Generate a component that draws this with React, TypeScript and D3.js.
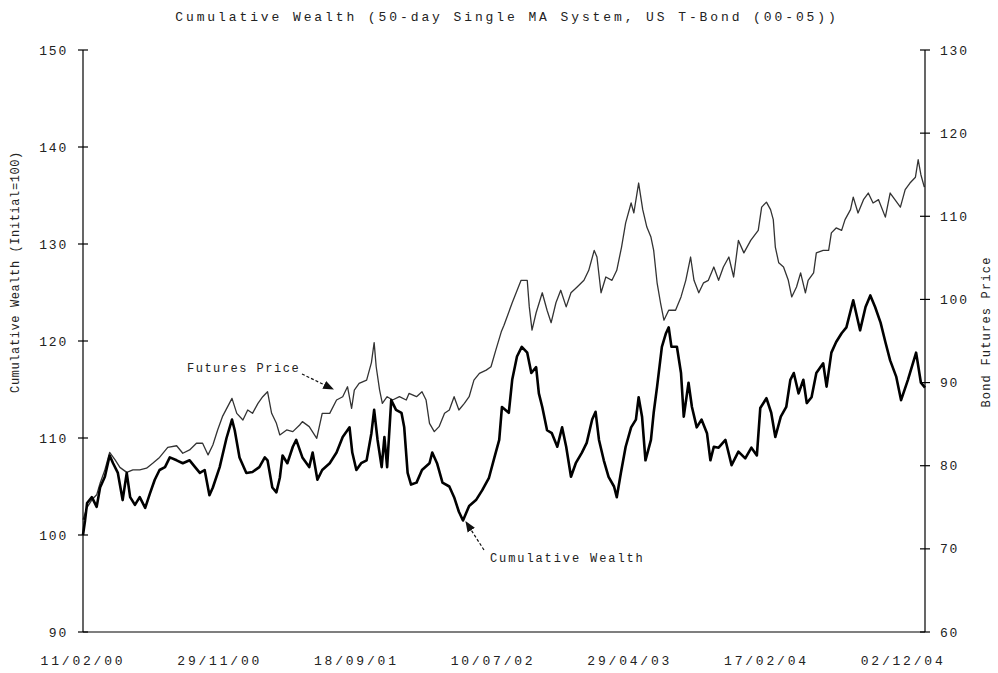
import React from 'react';
import * as d3 from 'd3';

// trading-day index (0 = 11/02/00) and values
const xTickDays = [0, 200, 400, 600, 800, 1000, 1200];
const xTickLabels = ['11/02/00', '29/11/00', '18/09/01', '10/07/02', '29/04/03', '17/02/04', '02/12/04'];
const wealthTicks = [90, 100, 110, 120, 130, 140, 150];
const priceTicks = [60, 70, 80, 90, 100, 110, 120, 130];

const wealth: [number, number][] = [
  [0, 100.0], [3, 101.5], [6, 103.3], [13, 103.9], [20, 102.9], [25, 104.9], [32, 106.0], [39, 108.2],
  [44, 107.4], [51, 106.4], [58, 103.6], [64, 106.4], [69, 103.9], [76, 103.1], [83, 103.9], [91, 102.8],
  [98, 104.3], [105, 105.7], [112, 106.7], [120, 107.0], [127, 108.0], [137, 107.7], [146, 107.4], [156, 107.7],
  [164, 107.0], [171, 106.4], [178, 106.7], [185, 104.1], [190, 104.9], [200, 107.0], [210, 110.0], [218, 111.9],
  [222, 110.8], [229, 108.0], [239, 106.4], [248, 106.5], [258, 107.0], [266, 108.0], [270, 107.7], [277, 104.9],
  [283, 104.4], [288, 105.9], [292, 108.2], [299, 107.4], [307, 109.1], [312, 109.8], [321, 108.0], [331, 107.0],
  [336, 108.5], [343, 105.7], [350, 106.7], [361, 107.4], [371, 108.5], [380, 110.1], [390, 111.1], [394, 108.5],
  [400, 106.7], [407, 107.4], [415, 107.7], [422, 110.5], [426, 112.9], [431, 109.8], [437, 107.0], [441, 110.1],
  [445, 107.0], [451, 113.9], [458, 112.9], [466, 112.6], [470, 111.1], [475, 106.4], [480, 105.2], [488, 105.4],
  [496, 106.7], [507, 107.4], [511, 108.5], [518, 107.4], [526, 105.4], [536, 105.0], [543, 103.9], [550, 102.4],
  [556, 101.5], [565, 103.0], [575, 103.6], [584, 104.6], [594, 105.9], [602, 108.0], [609, 109.8], [613, 113.2],
  [623, 112.6], [628, 116.0], [635, 118.4], [642, 119.4], [650, 118.8], [656, 116.7], [663, 117.3], [667, 114.6],
  [672, 113.2], [679, 110.8], [686, 110.5], [694, 109.1], [701, 111.1], [707, 109.1], [714, 106.0], [721, 107.4],
  [730, 108.5], [737, 109.5], [745, 111.9], [750, 112.7], [755, 109.8], [762, 107.7], [769, 106.0], [777, 105.0],
  [781, 103.9], [787, 106.4], [794, 109.1], [802, 111.1], [809, 111.9], [813, 114.2], [818, 112.2], [823, 107.7],
  [831, 109.8], [835, 112.6], [840, 115.3], [847, 119.4], [853, 120.8], [857, 121.4], [861, 119.4], [869, 119.4],
  [875, 116.7], [879, 112.2], [886, 115.7], [891, 113.2], [898, 111.1], [905, 111.9], [913, 110.5], [918, 107.7],
  [923, 109.1], [930, 109.0], [940, 109.8], [949, 107.2], [959, 108.6], [969, 107.9], [978, 109.0], [986, 108.2],
  [991, 113.1], [1000, 114.1], [1007, 112.6], [1013, 110.1], [1021, 112.2], [1029, 113.2], [1035, 116.0], [1040, 116.7],
  [1047, 114.6], [1054, 116.0], [1059, 113.6], [1066, 114.2], [1073, 116.7], [1083, 117.7], [1088, 115.3], [1095, 118.8],
  [1102, 119.9], [1110, 120.8], [1117, 121.4], [1127, 124.2], [1137, 121.1], [1145, 123.5], [1152, 124.7], [1159, 123.5],
  [1167, 121.9], [1174, 119.9], [1181, 118.0], [1190, 116.3], [1197, 113.9], [1207, 116.0], [1219, 118.8], [1226, 115.7],
  [1232, 115.2],
];

const futures: [number, number][] = [
  [0, 73.5], [6, 75.0], [13, 75.9], [20, 76.5], [25, 77.9], [32, 79.5], [39, 81.6], [47, 80.7],
  [54, 79.8], [64, 79.2], [73, 79.5], [83, 79.5], [93, 79.7], [102, 80.3], [112, 81.0], [124, 82.2],
  [137, 82.4], [146, 81.5], [156, 81.9], [166, 82.7], [175, 82.7], [183, 81.3], [190, 82.5], [197, 84.3],
  [204, 85.9], [218, 88.1], [225, 86.3], [234, 85.5], [241, 86.7], [248, 86.3], [256, 87.5], [263, 88.3],
  [270, 88.9], [276, 86.3], [283, 85.1], [288, 83.7], [298, 84.3], [307, 84.1], [317, 84.9], [321, 85.3],
  [331, 84.7], [342, 83.3], [350, 86.3], [361, 86.3], [371, 87.9], [380, 88.3], [387, 89.5], [393, 86.9],
  [397, 89.1], [404, 89.9], [415, 90.3], [422, 92.4], [426, 94.8], [429, 91.9], [434, 89.1], [438, 87.5],
  [445, 88.3], [453, 87.9], [463, 88.3], [473, 87.9], [477, 88.7], [488, 88.3], [496, 88.9], [502, 87.9],
  [507, 85.1], [514, 84.1], [521, 84.7], [529, 86.3], [536, 86.7], [543, 88.3], [550, 86.7], [558, 87.5],
  [565, 88.3], [572, 90.3], [580, 91.1], [590, 91.5], [597, 91.9], [604, 93.9], [612, 96.1], [616, 96.9],
  [628, 99.6], [641, 102.3], [650, 102.3], [653, 99.1], [657, 96.3], [663, 98.4], [672, 100.8], [679, 98.7],
  [685, 97.2], [692, 99.6], [699, 101.1], [707, 99.1], [714, 100.8], [723, 101.5], [733, 102.3], [740, 103.5],
  [748, 105.9], [752, 105.1], [758, 100.8], [765, 102.7], [774, 102.3], [781, 103.5], [788, 106.3], [794, 109.2],
  [802, 111.6], [806, 110.4], [813, 114.0], [819, 110.8], [825, 108.7], [831, 107.5], [835, 105.9], [840, 102.0],
  [845, 99.6], [850, 97.5], [857, 98.7], [867, 98.7], [875, 100.3], [882, 102.3], [889, 105.1], [894, 102.3],
  [901, 100.8], [908, 102.0], [915, 102.3], [923, 103.9], [930, 102.3], [937, 103.9], [945, 105.1], [952, 102.7],
  [959, 107.1], [967, 105.6], [977, 107.1], [988, 108.3], [993, 111.1], [1000, 111.7], [1006, 110.8], [1010, 109.6],
  [1013, 106.3], [1018, 104.4], [1025, 103.9], [1032, 102.3], [1037, 100.3], [1044, 101.5], [1050, 103.2], [1057, 100.8],
  [1061, 102.3], [1069, 103.2], [1073, 105.6], [1083, 105.9], [1091, 105.9], [1095, 108.0], [1102, 108.6], [1110, 108.3],
  [1115, 109.6], [1123, 110.8], [1127, 112.3], [1134, 110.4], [1142, 112.0], [1149, 112.8], [1156, 111.6], [1164, 112.0],
  [1174, 109.9], [1181, 112.8], [1188, 112.0], [1196, 111.1], [1203, 113.2], [1210, 114.0], [1218, 114.7], [1222, 116.8],
  [1226, 115.0], [1231, 113.5],
];

const W = 998;
const H = 673;
const left = 83;
const right = 925;
const top = 50;
const bottom = 632;
const font = "'Liberation Mono', 'DejaVu Sans Mono', monospace";

const App = () => {
  const x = d3.scaleLinear().domain([0, 1232]).range([left, right]);
  const yL = d3.scaleLinear().domain([90, 150]).range([bottom, top]);
  const yR = d3.scaleLinear().domain([60, 130]).range([bottom, top]);

  const wealthLine = d3.line<[number, number]>().x((d) => x(d[0])).y((d) => yL(d[1]));
  const priceLine = d3.line<[number, number]>().x((d) => x(d[0])).y((d) => yR(d[1]));

  return (
    <svg width={W} height={H} style={{ position: 'absolute', left: 0, top: 0, background: '#fff' }}>
      <defs>
        <marker id="arrow" viewBox="0 0 10 10" refX="9" refY="5" markerWidth="9" markerHeight="9" orient="auto">
          <path d="M0,1 L10,5 L0,9 z" fill="#111" />
        </marker>
      </defs>

      <text x={507} y={21} textAnchor="middle" fontFamily={font} fontSize={13} letterSpacing={2.9} fill="#222">
        Cumulative Wealth (50-day Single MA System, US T-Bond (00-05))
      </text>

      {/* series */}
      <path d={priceLine(futures) || ''} fill="none" stroke="#333" strokeWidth={1.3} strokeLinejoin="round" />
      <path d={wealthLine(wealth) || ''} fill="none" stroke="#000" strokeWidth={2.6} strokeLinejoin="round" />

      {/* axes */}
      <g stroke="#000" strokeWidth={1.2}>
        <line x1={left} x2={left} y1={top} y2={bottom} />
        <line x1={right} x2={right} y1={top} y2={bottom} />
        <line x1={left} x2={right} y1={bottom} y2={bottom} />
        {wealthTicks.map((t) => (
          <line key={'l' + t} x1={left - 5} x2={left + 5} y1={yL(t)} y2={yL(t)} />
        ))}
        {priceTicks.map((t) => (
          <line key={'r' + t} x1={right - 5} x2={right + 5} y1={yR(t)} y2={yR(t)} />
        ))}
      </g>

      <g fontFamily={font} fontSize={13} fill="#222">
        {wealthTicks.map((t) => (
          <text key={'lt' + t} x={68} y={yL(t)} dy="0.35em" textAnchor="end" letterSpacing={1.8}>
            {t}
          </text>
        ))}
        {priceTicks.map((t) => (
          <text key={'rt' + t} x={940} y={yR(t)} dy="0.35em" letterSpacing={1.8}>
            {t}
          </text>
        ))}
        {xTickDays.map((d, i) => (
          <text key={'xt' + d} x={x(d)} y={665} textAnchor="middle" letterSpacing={2.8}>
            {xTickLabels[i]}
          </text>
        ))}
      </g>

      <text
        transform="translate(19,272) rotate(-90)"
        textAnchor="middle"
        fontFamily={font}
        fontSize={12}
        letterSpacing={0.6}
        fill="#222"
      >
        Cumulative Wealth (Initial=100)
      </text>
      <text
        transform="translate(990,332) rotate(-90)"
        textAnchor="middle"
        fontFamily={font}
        fontSize={12}
        letterSpacing={1.2}
        fill="#222"
      >
        Bond Futures Price
      </text>

      {/* annotations */}
      <text x={187} y={372} fontFamily={font} fontSize={12} letterSpacing={1.5} fill="#222">
        Futures Price
      </text>
      <line x1={302} y1={374} x2={333} y2={389} stroke="#111" strokeWidth={1.2} strokeDasharray="3,2" markerEnd="url(#arrow)" />

      <text x={490} y={562} fontFamily={font} fontSize={12} letterSpacing={1.9} fill="#222">
        Cumulative Wealth
      </text>
      <line x1={484} y1={550} x2={466} y2={522} stroke="#111" strokeWidth={1.2} strokeDasharray="3,2" markerEnd="url(#arrow)" />
    </svg>
  );
};

export default App;
